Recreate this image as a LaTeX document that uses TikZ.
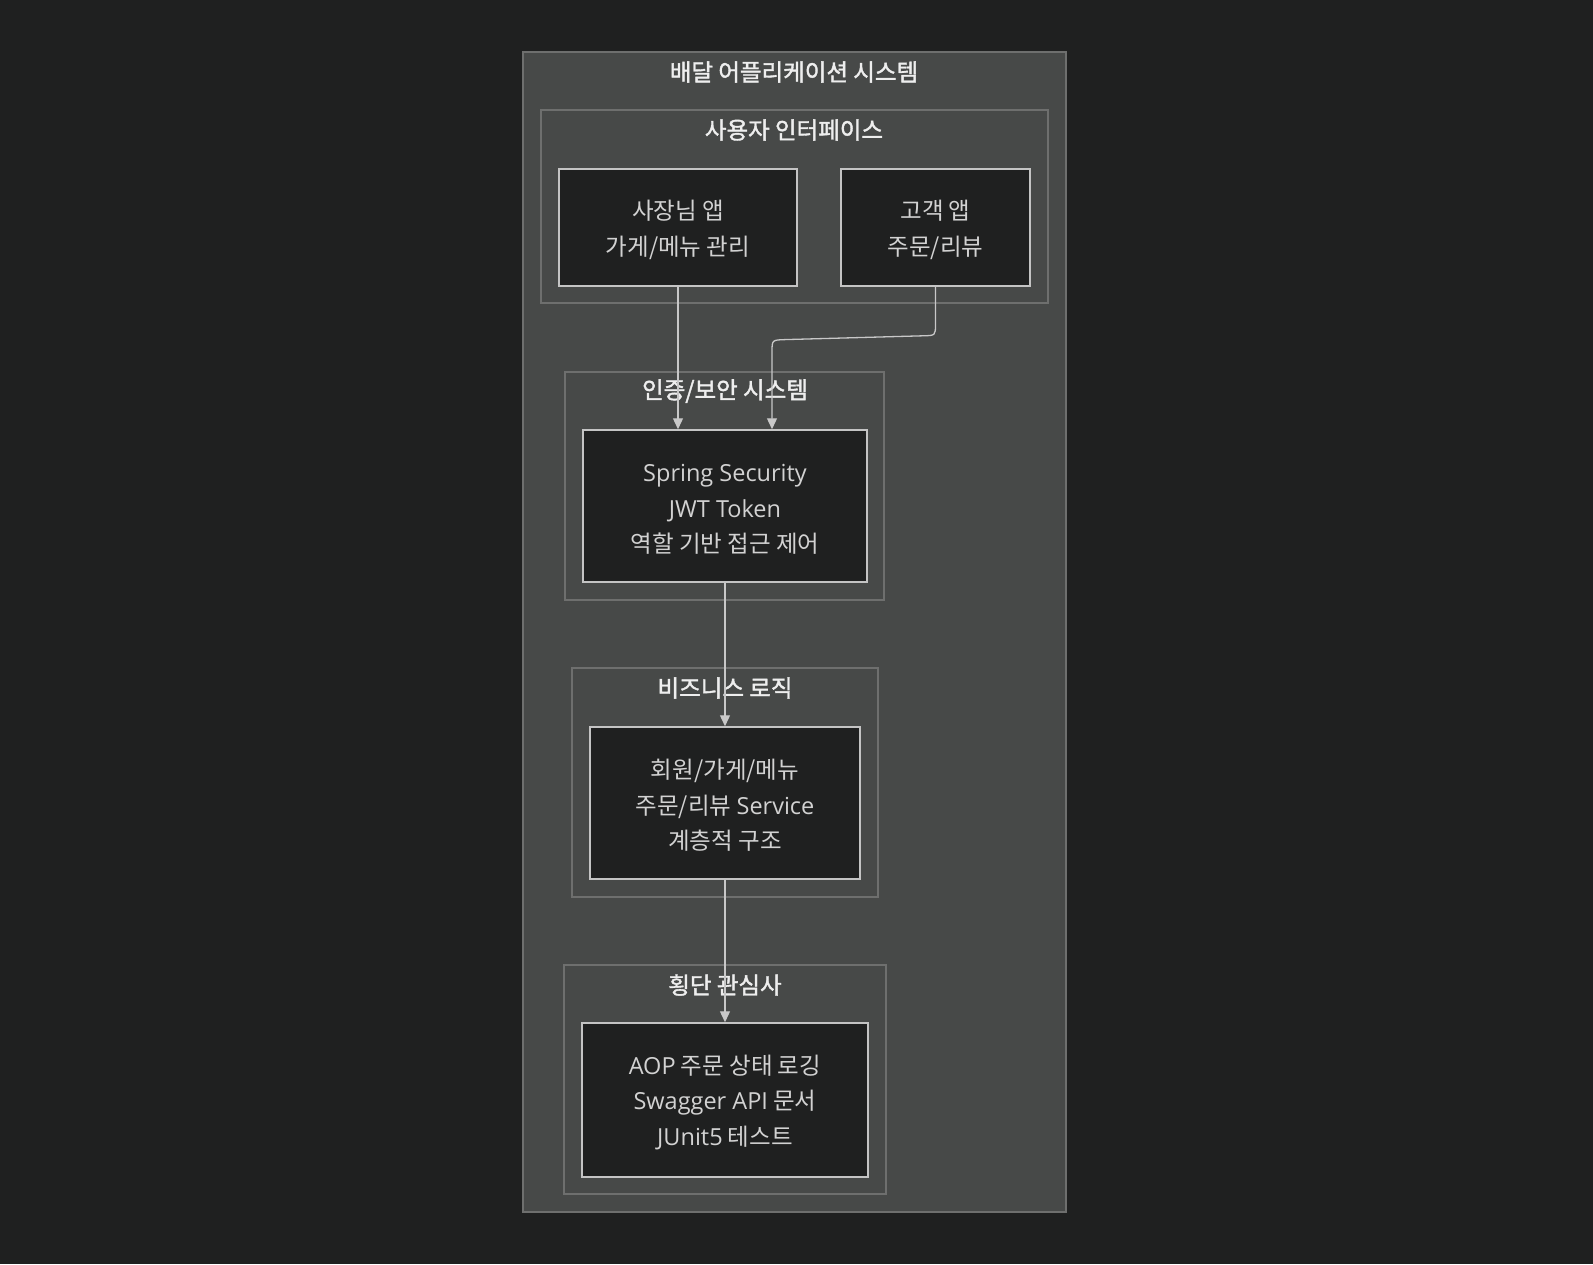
\documentclass[tikz,border=0pt]{standalone}
\usepackage{fontspec}
\setmainfont{Noto Sans CJK KR}
\newfontfamily\la{Open Sans}
\newfontfamily\ttl[FakeBold=1.6]{Noto Sans CJK KR}
\usetikzlibrary{arrows.meta}
\definecolor{bg}{HTML}{1F2020}
\definecolor{clfill}{HTML}{474948}
\definecolor{clborder}{HTML}{6E6F6E}
\definecolor{ndborder}{HTML}{C4C4C4}
\definecolor{ndtext}{HTML}{D2D2D2}
\definecolor{tttext}{HTML}{EEEEEE}
\definecolor{conncol}{HTML}{C8C8C8}
\begin{document}
\begin{tikzpicture}[x=1pt,y=-1pt,
  cluster/.style={draw=clborder, fill=clfill, line width=1.2pt, inner sep=0pt},
  nodebox/.style={draw=ndborder, fill=bg, line width=1.5pt, inner sep=0pt, align=center,
    text=ndtext, font=\fontsize{23.5}{35.5}\selectfont},
  ctitle/.style={text=tttext, font=\fontsize{23.5}{26}\selectfont\ttl, inner sep=0pt},
  conn/.style={draw=conncol, line width=1.3pt, -{Triangle[length=11pt,width=10pt]}}]
\fill[bg] (0,0) rectangle (1593,1264);
\useasboundingbox (0,0) rectangle (1593,1264);
% clusters
\node[cluster, minimum width=543pt, minimum height=1160pt] (outer) at (794.5,632) {};
\node[cluster, minimum width=507pt, minimum height=193pt] (ui) at (794.5,206.5) {};
\node[cluster, minimum width=319pt, minimum height=228pt] (authc) at (724.5,486) {};
\node[cluster, minimum width=306pt, minimum height=229pt] (bizc) at (725,782.5) {};
\node[cluster, minimum width=322pt, minimum height=229pt] (crossc) at (725,1079.5) {};
% titles
\node[ctitle] (t0) at (794,72) {배달 어플리케이션 시스템};
\node[ctitle] (t1) at (794,130) {사용자 인터페이스};
\node[ctitle] (t2) at (725,391) {인증/보안 시스템};
\node[ctitle] (t3) at (725,688) {비즈니스 로직};
\node[ctitle] (t4) at (725,985) {횡단 관심사};
% nodes
\node[nodebox, minimum width=238pt, minimum height=117pt] (owner) at (678,227.5) {\rule{0pt}{24pt}사장님 앱\\가게/메뉴 관리};
\node[nodebox, minimum width=189pt, minimum height=117pt] (cust) at (935.5,227.5) {\rule{0pt}{24pt}고객 앱\\주문/리뷰};
\node[nodebox, minimum width=284pt, minimum height=152pt] (auth) at (725,506) {\rule{0pt}{24pt}{\la Spring Security}\\{\la JWT Token}\\역할 기반 접근 제어};
\node[nodebox, minimum width=270pt, minimum height=152pt] (biz) at (725,803) {\rule{0pt}{24pt}회원/가게/메뉴\\주문/리뷰 {\la Service}\\계층적 구조};
\node[nodebox, minimum width=286pt, minimum height=154pt] (cross) at (725,1100) {\rule{0pt}{24pt}{\la AOP} 주문 상태 로깅\\{\la Swagger API} 문서\\{\la JUnit5} 테스트};
% connectors
\coordinate (c1) at (935.5,324);
\coordinate (c2) at (772,352);
\draw[conn] (owner.south) -- (auth.north -| owner.south);
\draw[conn] (cust.south) -- (c1) .. controls (935.5,335.5) .. (923,335.8) -- (785,339.6) .. controls (772,340) .. (c2) -- (c2 |- auth.north);
\draw[conn] (auth.south) -- (biz.north);
\draw[conn] (biz.south) -- (cross.north);
\end{tikzpicture}
\end{document}
